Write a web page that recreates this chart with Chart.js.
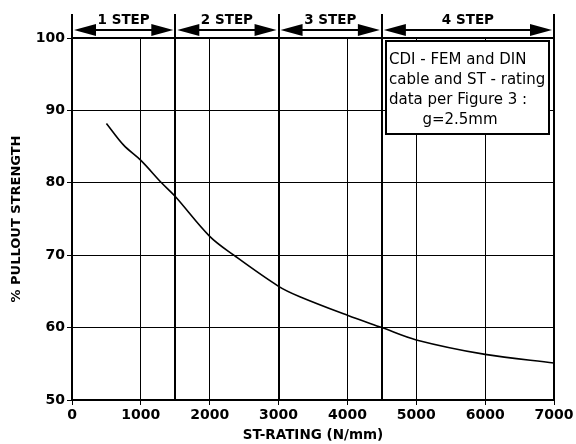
<!DOCTYPE html>
<html>
<head>
<meta charset="utf-8">
<script src="https://cdn.jsdelivr.net/npm/chart.js@4"></script>
<style>
  html, body { margin: 0; padding: 0; background: #fff; }
  #wrap { width: 576px; height: 444px; }
</style>
</head>
<body>
<div id="wrap"><canvas id="pullout-chart"></canvas></div>
<script>
// data
const stRating = [500, 750, 1000, 1300, 1500, 2000, 2350, 3000, 3300, 4000, 4500, 5000, 6000, 7000];
const pullout = [88.2, 85.2, 83.1, 80, 78.1, 72.6, 70, 65.7, 64.3, 61.7, 60, 58.3, 56.3, 55.1];
const stepBounds = [0, 1500, 3000, 4500, 7000];
const stepLabels = ['1 STEP', '2 STEP', '3 STEP', '4 STEP'];
const noteLines = ['CDI - FEM and DIN', 'cable and ST - rating', 'data per Figure 3 :', '       g=2.5mm'];

const font = '"DejaVu Sans", Verdana, sans-serif';

// step separators, arrows and the note box
const stepsPlugin = {
    id: 'steps',
    afterDraw(chart) {
        const ctx = chart.ctx;
        const x = chart.scales.x;
        const area = chart.chartArea;
        ctx.save();
        ctx.strokeStyle = '#000';
        ctx.fillStyle = '#000';

        // separators
        ctx.lineWidth = 2;
        stepBounds.forEach(v => {
            const px = Math.round(x.getPixelForValue(v));
            ctx.beginPath();
            ctx.moveTo(px, 14);
            ctx.lineTo(px, area.bottom);
            ctx.stroke();
        });
        ctx.beginPath();
        ctx.moveTo(area.left, area.top);
        ctx.lineTo(area.right, area.top);
        ctx.stroke();

        // arrows + labels
        const ay = 30;
        ctx.font = 'bold 13.5px ' + font;
        ctx.textAlign = 'center';
        ctx.textBaseline = 'alphabetic';
        for (let i = 0; i < stepLabels.length; i++) {
            const a = x.getPixelForValue(stepBounds[i]) + 2;
            const b = x.getPixelForValue(stepBounds[i + 1]) - 2;
            ctx.lineWidth = 2;
            ctx.beginPath();
            ctx.moveTo(a + 10, ay);
            ctx.lineTo(b - 10, ay);
            ctx.stroke();
            ctx.beginPath();
            ctx.moveTo(a, ay);
            ctx.lineTo(a + 22, ay - 6);
            ctx.lineTo(a + 22, ay + 6);
            ctx.closePath();
            ctx.fill();
            ctx.beginPath();
            ctx.moveTo(b, ay);
            ctx.lineTo(b - 22, ay - 6);
            ctx.lineTo(b - 22, ay + 6);
            ctx.closePath();
            ctx.fill();
            ctx.fillText(stepLabels[i], (a + b) / 2, 24);
        }

        // note box
        const bx = 386, by = 41, bw = 163, bh = 93;
        ctx.fillStyle = '#fff';
        ctx.fillRect(bx, by, bw, bh);
        ctx.lineWidth = 2;
        ctx.strokeRect(bx, by, bw, bh);
        ctx.fillStyle = '#000';
        ctx.font = '15px ' + font;
        ctx.textAlign = 'left';
        noteLines.forEach((t, i) => {
            ctx.fillText(t, bx + 3, by + 23 + i * 20);
        });
        ctx.restore();
    }
};

function buildPulloutChart(container) {
    const config = {
        type: 'line',
        data: {
            datasets: [{
                data: stRating.map((v, i) => ({ x: v, y: pullout[i] })),
                borderColor: '#000',
                borderWidth: 1.6,
                pointRadius: 0,
                tension: 0.35,
                fill: false
            }]
        },
        options: {
            responsive: true,
            maintainAspectRatio: false,
            animation: false,
            layout: { padding: { left: 0, right: 22, top: 38, bottom: 0 } },
            plugins: {
                legend: { display: false },
                tooltip: { enabled: false }
            },
            scales: {
                x: {
                    type: 'linear',
                    min: 0,
                    max: 7000,
                    ticks: {
                        stepSize: 1000,
                        color: '#000',
                        font: { family: font, size: 14, weight: 'bold' },
                        maxRotation: 0,
                        padding: 2,
                        callback: v => String(v)
                    },
                    grid: { color: '#000', lineWidth: 1, tickLength: 5 },
                    border: { color: '#000', width: 2 },
                    title: {
                        display: true,
                        text: 'ST-RATING (N/mm)',
                        color: '#000',
                        font: { family: font, size: 13.5, weight: 'bold' },
                        padding: { top: 0, bottom: 0 }
                    },
                    afterFit(scale) { scale.height = 44; }
                },
                y: {
                    min: 50,
                    max: 100,
                    ticks: {
                        stepSize: 10,
                        color: '#000',
                        font: { family: font, size: 14, weight: 'bold' },
                        padding: 2
                    },
                    grid: { color: '#000', lineWidth: 1, tickLength: 5 },
                    border: { color: '#000', width: 2 },
                    title: {
                        display: true,
                        text: '% PULLOUT STRENGTH',
                        color: '#000',
                        font: { family: font, size: 13, weight: 'bold' },
                        padding: { top: 9, bottom: 0 }
                    },
                    afterFit(scale) { scale.width = 72; }
                }
            }
        },
        plugins: [stepsPlugin]
    };

    new Chart(container, config);
}

addEventListener('DOMContentLoaded', () => {
    const pulloutChartContainer = document.getElementById('pullout-chart');
    if (pulloutChartContainer) {
        buildPulloutChart(pulloutChartContainer);
    }
});
</script>
</body>
</html>
